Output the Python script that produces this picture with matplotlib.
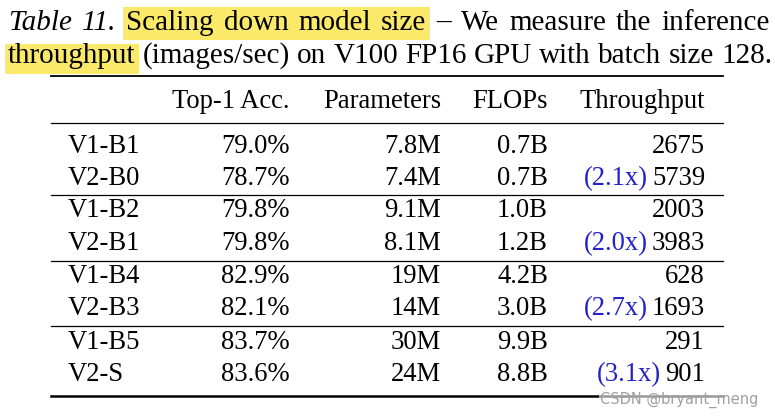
import matplotlib.pyplot as plt
from matplotlib.patches import Rectangle

# table data
models = ["V1-B1", "V2-B0", "V1-B2", "V2-B1", "V1-B4", "V2-B3", "V1-B5", "V2-S"]
top1_acc = [79.0, 78.7, 79.8, 79.8, 82.9, 82.1, 83.7, 83.6]
params_m = ["7.8M", "7.4M", "9.1M", "8.1M", "19M", "14M", "30M", "24M"]
flops_b = [0.7, 0.7, 1.0, 1.2, 4.2, 3.0, 9.9, 8.8]
throughput = [2675, 5739, 2003, 3983, 628, 1693, 291, 901]
speedup = [None, 2.1, None, 2.0, None, 2.7, None, 3.1]
headers = ["Top-1 Acc.", "Parameters", "FLOPs", "Throughput"]

# caption words: (word, style, highlighted)
caption_line1 = [("Table", "italic", False), ("11.", "italic", False),
                 ("Scaling", "normal", True), ("down", "normal", True),
                 ("model", "normal", True), ("size", "normal", True),
                 ("\u2013", "normal", False), ("We", "normal", False),
                 ("measure", "normal", False), ("the", "normal", False),
                 ("inference", "normal", False)]
caption_line2 = [("throughput", "normal", True), ("(images/sec)", "normal", False),
                 ("on", "normal", False), ("V100", "normal", False),
                 ("FP16", "normal", False), ("GPU", "normal", False),
                 ("with", "normal", False), ("batch", "normal", False),
                 ("size", "normal", False), ("128.", "normal", False)]

SERIF = ["Liberation Serif", "DejaVu Serif"]
FS = 19.2       # table body
CAP_FS = 21.0   # caption
HIGHLIGHT = "#fbe96a"
BLUE = "#2222cc"

fig = plt.figure(figsize=(7.75, 4.17), dpi=100)
ax = fig.add_axes([0, 0, 1, 1])
ax.set_xlim(0, 775)
ax.set_ylim(417, 0)
ax.axis("off")


def txt(x, y, s, ha="left", color="black", style="normal", size=FS):
    return ax.text(x, y, s, ha=ha, va="baseline", fontsize=size, family=SERIF,
                   color=color, style=style, zorder=3)


def extent(t):
    """Return (left, right) of a text in data coords."""
    fig.canvas.draw()
    bb = t.get_window_extent()
    inv = ax.transData.inverted()
    return inv.transform((bb.x0, bb.y0))[0], inv.transform((bb.x1, bb.y0))[0]


def justify(words, y, left, right, hl_top, hl_bottom):
    """Lay out words spread across [left, right] like a justified paragraph line."""
    arts = [txt(0, y, w, style=s, size=CAP_FS) for w, s, _ in words]
    widths = [extent(a)[1] - extent(a)[0] for a in arts]
    gap = (right - left - sum(widths)) / (len(words) - 1)
    x = left
    spans = []
    for a, w in zip(arts, widths):
        a.set_x(x)
        spans.append((x, x + w))
        x += w + gap
    hl = [sp for sp, (_, _, h) in zip(spans, words) if h]
    if hl:
        x_a = hl[0][0] - 3
        x_b = hl[-1][1] + 3
        ax.add_patch(Rectangle((x_a, hl_top), x_b - x_a, hl_bottom - hl_top,
                               facecolor=HIGHLIGHT, edgecolor="none", zorder=1))


justify(caption_line1, 30, 8, 770, 7, 40)
justify(caption_line2, 63, 8, 772, 44, 74)

# column right edges
col_x = [290, 441, 548, 705]
x0, x1 = 51, 723

ax.plot([x0, x1], [76, 76], color="black", lw=1.3, zorder=2)
for cx, h in zip(col_x, headers):
    txt(cx, 108, h, ha="right")
ax.plot([x0, x1], [123, 123], color="black", lw=0.9, zorder=2)

row_y = [153, 185, 217, 250, 283, 315, 349, 381]
for i, y in enumerate(row_y):
    txt(68, y, models[i])
    txt(col_x[0], y, f"{top1_acc[i]:.1f}%", ha="right")
    txt(col_x[1], y, params_m[i], ha="right")
    txt(col_x[2], y, f"{flops_b[i]:.1f}B", ha="right")
    t = txt(col_x[3], y, str(throughput[i]), ha="right")
    if speedup[i] is not None:
        txt(extent(t)[0] - 4, y, f"({speedup[i]:.1f}x)", ha="right", color=BLUE)

for y in [195, 261, 326]:
    ax.plot([x0, x1], [y, y], color="black", lw=0.9, zorder=2)
ax.plot([x0, x1], [396, 396], color="black", lw=1.8, zorder=2)

# watermark
ax.text(758, 404, "CSDN @bryant_meng", ha="right", va="baseline", fontsize=10.5,
        family=["DejaVu Sans"], color="#a0a0a0", zorder=4,
        bbox=dict(facecolor="white", edgecolor="none", alpha=0.6, pad=0.5))

fig.savefig("out.png", dpi=100)
